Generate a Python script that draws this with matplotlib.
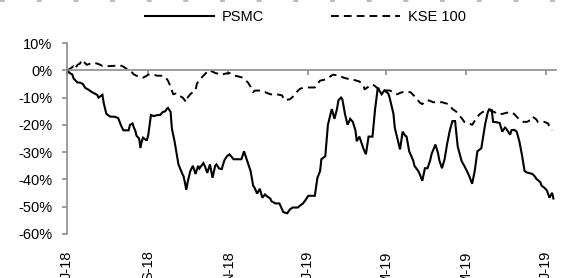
import matplotlib
matplotlib.use("Agg")
import matplotlib.pyplot as plt
import matplotlib.transforms as mtransforms
from matplotlib.lines import Line2D
import pandas as pd

# ---- data ----
START = pd.Timestamp("2018-07-01")

psmc_days = [0, 2, 4, 5, 8, 10, 12, 14, 16, 19, 23, 24, 27, 28, 30, 33, 36, 39, 41, 43,
             47, 48, 50, 51, 52, 53, 55, 56, 57, 58, 60, 61, 62, 64, 66, 69, 71, 73, 75, 76,
             77, 78, 79, 80, 82, 85, 88, 89, 91, 92, 94, 96, 98, 100, 101, 104, 105, 107, 109, 111,
             113, 114, 116, 118, 120, 122, 124, 127, 130, 133, 135, 137, 140, 142, 143, 145, 147, 149, 151, 152,
             155, 156, 159, 162, 165, 168, 170, 172, 176, 178, 180, 182, 184, 189, 191, 193, 194, 197, 199, 201,
             202, 204, 206, 207, 209, 210, 212, 214, 216, 218, 220, 221, 223, 226, 228, 230, 233, 235, 237, 239,
             240, 242, 245, 246, 249, 250, 252, 254, 256, 258, 259, 261, 264, 265, 268, 269, 271, 273, 275, 277,
             278, 281, 283, 284, 286, 288, 290, 292, 294, 296, 298, 301, 303, 305, 307, 309, 311, 313, 316, 319,
             321, 322, 324, 325, 327, 330, 332, 334, 335, 338, 339, 341, 343, 345, 347, 349, 351, 355, 357, 358,
             361, 362, 364, 366, 368, 370, 371]
psmc_vals = [0, -1, -1.5, -3, -4.5, -4.5, -5, -6.5, -7, -8, -9, -10, -9, -12, -16, -17, -17, -17.5, -20, -22,
             -22, -20, -19.5, -21, -22, -24, -25, -28.5, -26, -24.7, -25.5, -25.5, -23.6, -16.4, -16.8, -16.4, -16.4, -15.3, -15, -14.2,
             -13.8, -14.5, -15.3, -21.4, -26, -34.5, -38, -39, -43.8, -41, -37, -35, -38, -35, -36, -34, -35, -37.6, -34.5, -39.4,
             -35, -34.5, -36, -36.2, -33, -31.5, -30.8, -32.6, -32.6, -32.6, -29.7, -32.6, -36.9, -42.3, -43, -45.2, -43.4, -46.7, -45.5, -46,
             -47, -48, -48.8, -48.8, -52, -52.4, -51, -50.3, -50.3, -49.5, -48.8, -47.5, -46, -46, -39.4, -37, -32.6, -31.5, -20, -16,
             -14.2, -17.8, -14, -11, -10, -10.6, -16, -20, -17.8, -18.9, -22, -26, -24.3, -28.6, -30.8, -24.3, -24.3, -14.2, -6.5, -8,
             -8.8, -7.4, -8.5, -9.9, -16, -21, -25, -29, -22.5, -24, -24.3, -29.7, -33, -35, -37, -38, -40.5, -35.9, -35.9, -33,
             -30.8, -27.2, -30.4, -33, -35.9, -32.6, -26.8, -22, -18.6, -18.6, -27.9, -33.3, -35, -36.9, -39, -41.6, -36.9, -29.7, -28.6, -19.6,
             -15.3, -14.3, -14.6, -18.9, -19, -19.3, -22.5, -21, -21.4, -23.6, -22, -21.8, -22.5, -26, -31, -36.9, -37.5, -38, -39, -39.8,
             -41, -42.3, -43, -44, -46.7, -44.9, -47]

kse_days = [0, 2, 5, 6, 8, 10, 11, 13, 15, 18, 21, 24, 27, 31, 35, 39, 42, 44, 47, 49,
            51, 53, 56, 58, 60, 62, 65, 69, 73, 75, 77, 79, 81, 83, 85, 86, 88, 89, 91, 92,
            94, 96, 98, 99, 101, 102, 104, 106, 108, 111, 113, 115, 118, 121, 124, 128, 131, 134, 136, 138,
            140, 142, 143, 146, 149, 151, 155, 160, 164, 166, 170, 172, 174, 176, 178, 180, 183, 186, 189, 191,
            193, 196, 198, 201, 203, 205, 208, 211, 214, 216, 218, 221, 223, 226, 227, 230, 233, 235, 236, 239,
            241, 244, 246, 249, 252, 254, 256, 259, 262, 265, 267, 269, 271, 273, 275, 277, 279, 283, 286, 288,
            291, 292, 294, 297, 298, 301, 303, 307, 309, 311, 313, 315, 317, 320, 322, 326, 328, 332, 335, 338,
            341, 343, 345, 348, 351, 354, 355, 358, 359, 364, 367, 368, 370]
kse_vals = [0, 0.5, 1.5, 0.5, 2, 2.5, 3.8, 3, 2, 2.5, 2.7, 2.3, 1.6, 1.5, 1.6, 1.8, 1.6, 1, 0, -0.5,
            -1.5, -2, -2.5, -2.7, -2.2, -1.6, -1.5, -2, -2, -2.5, -3.8, -6, -8.8, -8.5, -8.8, -9.5, -9.9, -10.5, -11.7, -10,
            -8.8, -8, -7.4, -5, -3.4, -3, -2, -1, 0, -0.5, -1, -1.2, -1.6, -1.2, -1, -2, -2.3, -2.7, -3.5, -4.5,
            -6, -8, -7.5, -7.4, -7.8, -8, -8.8, -8.8, -9.2, -11, -10.6, -9.8, -8.8, -7.5, -6.7, -6.5, -6.3, -6.3, -6.3, -5,
            -3.8, -3.5, -3.1, -2.2, -1.6, -1.8, -2, -2.7, -3.1, -3.2, -3.4, -3.8, -4.1, -5.5, -7, -6, -5.2, -5.8, -6.3, -7,
            -7.4, -7.4, -7.4, -8, -8.8, -8.3, -8, -8, -8, -9.5, -10.6, -11.8, -12.4, -11.5, -11, -11.2, -11.7, -11.7, -11.7, -12,
            -12.4, -13, -14.2, -15.2, -16, -17.5, -18.9, -19.5, -20, -18.5, -17, -16, -15.3, -14.8, -14.6, -15.3, -16, -16, -15.6, -15.3,
            -16, -17, -18, -18.9, -18.9, -18, -17, -18, -18.9, -18.9, -19.5, -21, -22]

tick_dates = ["2018-07-01", "2018-09-01", "2018-11-01", "2019-01-01", "2019-03-01", "2019-05-01", "2019-07-01"]
tick_labels = ["J-18", "S-18", "N-18", "J-19", "M-19", "M-19", "J-19"]
y_ticks = [10, 0, -10, -20, -30, -40, -50, -60]

# ---- figure ----
plt.rcParams["font.family"] = ["Liberation Sans", "DejaVu Sans"]
GREY = "#8c8c8c"

fig = plt.figure(figsize=(5.69, 2.78), dpi=100)
ax = fig.add_axes([0.1178, 0.1583, 0.8594, 0.687])

psmc_x = START + pd.to_timedelta(psmc_days, unit="D")
kse_x = START + pd.to_timedelta(kse_days, unit="D")
ax.plot(psmc_x, psmc_vals, color="black", lw=1.5, label="PSMC", solid_joinstyle="miter")
ax.plot(kse_x, kse_vals, color="black", lw=1.4, ls=(0, (4, 2.6)), label="KSE 100")

ax.set_xlim(START, START + pd.Timedelta(days=373))
ax.set_ylim(-60, 10)

for s in ["top", "right"]:
    ax.spines[s].set_visible(False)
ax.spines["left"].set_color(GREY)
ax.spines["left"].set_linewidth(1.2)
ax.spines["bottom"].set_position(("data", 0))
ax.spines["bottom"].set_color(GREY)
ax.spines["bottom"].set_linewidth(1.2)

ax.set_yticks(y_ticks)
ax.set_yticklabels([f"{v}%" for v in y_ticks], fontsize=10.5)
ax.tick_params(axis="y", length=3.6, width=1.2, color=GREY, pad=7)

tick_x = pd.to_datetime(tick_dates)
ax.set_xticks(tick_x)
ax.tick_params(axis="x", length=3.6, width=1.2, color=GREY, labelbottom=False)

trans = mtransforms.blended_transform_factory(ax.transData, fig.transFigure)
for d, lab in zip(tick_x, tick_labels):
    ax.text(d, 0.100, lab, transform=trans, rotation=90, ha="center", va="top",
            fontsize=10.5, clip_on=False)

ax.legend(ncol=2, loc="center", bbox_to_anchor=(0.537, 0.939), bbox_transform=fig.transFigure,
          frameon=False, fontsize=10.5, handlelength=4.7, handletextpad=0.55, columnspacing=4.6)

# dotted border left over from the box above the chart
fig.add_artist(Line2D([0, 1], [0.997, 0.997], transform=fig.transFigure, color="#b0b0b0",
                      lw=1.2, ls=(0, (3, 19))))

fig.savefig("out.png", dpi=100)
